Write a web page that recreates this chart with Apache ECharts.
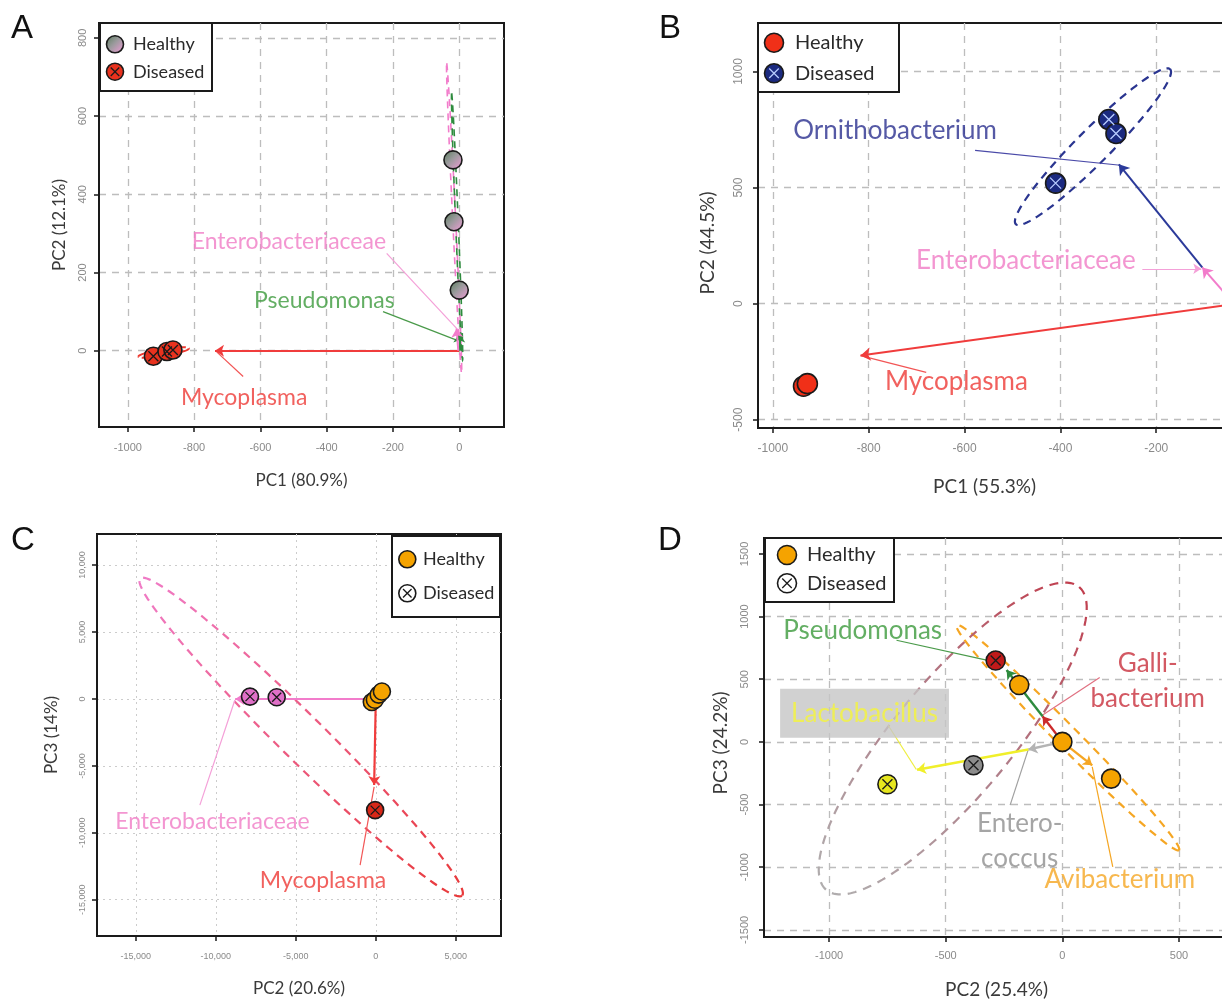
<!DOCTYPE html>
<html><head><meta charset="utf-8">
<script src="https://cdn.jsdelivr.net/npm/echarts@6/dist/echarts.min.js"></script>
<style>html,body{margin:0;padding:0;background:#fff}#chart{width:1222px;height:1002px}</style>
</head><body><div id="chart"></div>
<script>
// ---------------- Panel A ----------------
const aXTicks = [-1000, -800, -600, -400, -200, 0];
const aYTicks = [0, 200, 400, 600, 800];
const aHealthy = [[-19, 488], [-16, 330], [0, 155]];
const aDiseased = [[-923, -14], [-882, -2], [-864, 2]];
const aArrows = [['Mycoplasma', 0, 0, -737, 0], ['Pseudomonas', 0, 0, 0, 44], ['Enterobacteriaceae', -3, 0, -8, 57]];
const aPointers = [['Enterobacteriaceae', -219, 249, -8, 57], ['Pseudomonas', -230, 100, -8, 27], ['Mycoplasma', -652, -66, -732, -3]];
const aLabels = [['Enterobacteriaceae', -514, 278], ['Pseudomonas', -407, 129], ['Mycoplasma', -649, -121]];
const aEllipses = [['Healthy (pink)', -15.5, 338.5, -38, 735, -11, 338.5], ['Healthy (green)', -6.5, 317, -23, 658, -2.5, 317], ['Diseased', -892, -4.5, -968, -15, -893, 4]];

// ---------------- Panel B ----------------
const bXTicks = [-1000, -800, -600, -400, -200, 0];
const bYTicks = [-500, 0, 500, 1000];
const bHealthy = [[-936, -356], [-928, -345]];
const bDiseased = [[-410, 519], [-299, 793], [-284, 733]];
const bArrows = [['Mycoplasma', -30, 0, -817, -224], ['Enterobacteriaceae', -38, 0, -104, 156], ['Ornithobacterium', -104, 156, -278, 600]];
const bPointers = [['Ornithobacterium', -578, 660, -275, 596], ['Enterobacteriaceae', -229, 150, -106, 150], ['Mycoplasma', -680, -296, -817, -224]];
const bLabels = [['Ornithobacterium', -745, 747], ['Enterobacteriaceae', -472, 186], ['Mycoplasma', -617, -334]];
const bEllipses = [['Diseased', -332, 676, -171, 1010, -307, 625]];

// ---------------- Panel C ----------------
const cXTicks = [-15000, -10000, -5000, 0, 5000];
const cYTicks = [-15000, -10000, -5000, 0, 5000, 10000];
const cHealthy = [[-250, -230], [-60, -60], [180, 320], [380, 560]];
const cDiseasedEntero = [[-7862, 175], [-6194, 125]];
const cDiseasedMyco = [[-42, -8304]];
const cArrows = [['Enterobacteriaceae', 0, 0, -8786, 0], ['Mycoplasma', 0, 0, -104, -6434]];
const cPointers = [['Enterobacteriaceae', -10995, -7930, -8805, -75], ['Mycoplasma', -982, -12419, -106, -6561]];
const cLabels = [['Enterobacteriaceae', -10213, -9180], ['Mycoplasma', -3298, -13541]];
const cEllipses = [['Diseased', -4666, -2843, 5396, -14688, -3694, -1619], ['Healthy', 60, 160, 560, 760, 10, 215]];

// ---------------- Panel D ----------------
const dXTicks = [-1000, -500, 0, 500];
const dYTicks = [-1500, -1000, -500, 0, 500, 1000, 1500];
const dHealthy = [[0, 0], [-185, 454], [209, -293]];
const dDiseased = [[-286, 649], [-381, -186], [-750, -338]];
const dArrows = [['Gallibacterium', 0, 0, -85, 205], ['Pseudomonas', -85, 205, -239, 574], ['Enterococcus', 0, 0, -146, -61], ['Lactobacillus', -146, -61, -623, -222], ['Avibacterium', 0, 0, 128, -187]];
const dPointers = [['Pseudomonas', -711, 811, -320, 651], ['Gallibacterium', 160, 513, -86, 213], ['Lactobacillus', -747, 133, -626, -220], ['Enterococcus', -224, -505, -147, -66], ['Avibacterium', 216, -997, 128, -199]];
const dLabels = [['Pseudomonas', -856, 891], ['Galli-\nbacterium', 366, 488], ['Lactobacillus', -848, 229], ['Entero-\ncoccus', -183, -790], ['Avibacterium', 246, -1102]];
const dEllipses = [['Healthy', 23.5, 33.5, 500, -864, 57, 95], ['Diseased', -470, 27, 72, 1236, -279.5, -270]];

// ---------------- styles ----------------
const G = echarts.graphic;
const arrowColor = {
  Mycoplasma: '#f03c3c', Pseudomonas: '#2e8b3e', Enterobacteriaceae: '#f27ccb', Ornithobacterium: '#2b3a9a',
  Gallibacterium: '#cc2a2a', Lactobacillus: '#f0ef2a', Enterococcus: '#b4b4b4', Avibacterium: '#f5a623'
};
const pointerColor = {
  Mycoplasma: '#f25555', Pseudomonas: '#4a9a4a', Enterobacteriaceae: '#f4a0d8', Ornithobacterium: '#4a4aa8',
  Gallibacterium: '#e07080', Lactobacillus: '#eeee40', Enterococcus: '#a0a0a0', Avibacterium: '#f5a623'
};
const textColor = {
  'Mycoplasma': '#ee3a36', 'Pseudomonas': '#3c9a3c', 'Enterobacteriaceae': '#f07cc6', 'Ornithobacterium': '#2b2f8f',
  'Galli-\nbacterium': '#c8303c', 'Lactobacillus': '#f5f53a', 'Entero-\ncoccus': '#8f8f8f', 'Avibacterium': '#f5a623'
};
const FONT = 'Lato';
const TICKFONT = 'Liberation Sans';
const BORDER = '#1a1a1a';

const series = [];
function ellipse(gi, e, stroke, width, dash) {
  series.push({
    type: 'custom', coordinateSystem: 'cartesian2d', xAxisIndex: gi, yAxisIndex: gi, silent: true, z: 2,
    data: [e.slice(1)],
    renderItem: function (params, api) {
      const c = api.coord([api.value(0), api.value(1)]);
      const a = api.coord([api.value(2), api.value(3)]);
      const b = api.coord([api.value(4), api.value(5)]);
      const ax = a[0] - c[0], ay = a[1] - c[1], bx = b[0] - c[0], by = b[1] - c[1];
      const pts = [];
      for (let i = 0; i <= 120; i++) {
        const t = i / 120 * Math.PI * 2;
        pts.push([c[0] + ax * Math.cos(t) + bx * Math.sin(t), c[1] + ay * Math.cos(t) + by * Math.sin(t)]);
      }
      return { type: 'polyline', shape: { points: pts }, style: { stroke: stroke, lineWidth: width, lineDash: dash, fill: null } };
    }
  });
}
function arrows(gi, list, width, size) {
  list.forEach(function (r) {
    series.push({
      type: 'lines', coordinateSystem: 'cartesian2d', xAxisIndex: gi, yAxisIndex: gi, silent: true, z: 4,
      symbol: ['none', 'arrow'], symbolSize: size,
      lineStyle: { color: arrowColor[r[0]], width: width, opacity: 1, curveness: 0 },
      data: [{ coords: [[r[1], r[2]], [r[3], r[4]]] }]
    });
  });
}
function pointers(gi, list, headNames) {
  list.forEach(function (r) {
    const head = headNames && headNames.indexOf(r[0]) >= 0;
    series.push({
      type: 'lines', coordinateSystem: 'cartesian2d', xAxisIndex: gi, yAxisIndex: gi, silent: true, z: 3,
      symbol: ['none', head ? 'arrow' : 'none'], symbolSize: 8,
      lineStyle: { color: pointerColor[r[0]], width: 1.2, opacity: 1, curveness: 0 },
      data: [{ coords: [[r[1], r[2]], [r[3], r[4]]] }]
    });
  });
}
function labels(gi, list, fs, extra) {
  list.forEach(function (r) {
    const lab = Object.assign({ show: true, position: 'inside', formatter: '{b}', color: textColor[r[0]], fontSize: fs, fontFamily: FONT, lineHeight: fs * 1.35, align: 'center' }, (extra && extra[r[0]]) || {});
    series.push({
      type: 'scatter', xAxisIndex: gi, yAxisIndex: gi, silent: true, z: 8, symbolSize: 1,
      itemStyle: { color: 'transparent' },
      data: [{ name: r[0], value: [r[1], r[2]] }],
      label: lab
    });
  });
}
function points(gi, pts, fill, size) {
  series.push({
    type: 'scatter', xAxisIndex: gi, yAxisIndex: gi, silent: true, z: 6, symbolSize: size,
    data: pts.map(function (p, i) { return { value: p, itemStyle: { color: Array.isArray(fill) ? fill[i] : fill } }; }),
    itemStyle: { borderColor: BORDER, borderWidth: 1.6, opacity: 1 }
  });
}
function crosses(gi, pts, color, size) {
  series.push({
    type: 'scatter', xAxisIndex: gi, yAxisIndex: gi, silent: true, z: 7, symbolSize: size,
    symbol: 'path://M0,0L10,10M10,0L0,10',
    data: pts,
    itemStyle: { color: 'transparent', borderColor: color, borderWidth: 1.3, opacity: 1 }
  });
}

const healthyA = new G.LinearGradient(0, 0, 1, 1, [{ offset: 0, color: '#557a58' }, { offset: 0.45, color: '#9a9a9c' }, { offset: 1, color: '#f79ddc' }]);

// Panel A
ellipse(0, aEllipses[0], '#f27ccb', 1.6, [7, 5]);
ellipse(0, aEllipses[1], '#2e8b3e', 1.6, [7, 5]);
ellipse(0, aEllipses[2], '#ee3a30', 2, [10, 3]);
arrows(0, aArrows, 2, 9);
pointers(0, aPointers);
points(0, aHealthy, healthyA, 18);
points(0, aDiseased, '#e8321e', 18);
crosses(0, aDiseased, '#1a1a1a', 10);
labels(0, aLabels, 23);

// Panel B
ellipse(1, bEllipses[0], '#2a3590', 2.2, [8, 6]);
arrows(1, bArrows, 2, 10);
pointers(1, bPointers, ['Enterobacteriaceae']);
points(1, bHealthy, '#f03018', 20);
points(1, bDiseased, '#1b2a80', 20);
crosses(1, bDiseased, '#b8ccff', 11);
labels(1, bLabels, 26);

// Panel C
ellipse(2, cEllipses[0], new G.LinearGradient(0, 0, 1, 1, [{ offset: 0, color: '#f07cc8' }, { offset: 1, color: '#e83838' }]), 2.2, [8, 6]);
ellipse(2, cEllipses[1], '#f5b800', 1.5, [4, 3]);
arrows(2, cArrows, 2.2, 9);
pointers(2, cPointers);
points(2, cHealthy, '#f5a300', 17);
points(2, cDiseasedEntero, '#e070c8', 17);
points(2, cDiseasedMyco, '#d82818', 17);
crosses(2, cDiseasedEntero.concat(cDiseasedMyco), '#1a1a1a', 9);
labels(2, cLabels, 23);

// Panel D
ellipse(3, dEllipses[0], '#f5a623', 2.2, [8, 6]);
ellipse(3, dEllipses[1], new G.LinearGradient(1, 0, 0, 1, [{ offset: 0, color: '#c23a4a' }, { offset: 0.45, color: '#b07a86' }, { offset: 1, color: '#b0b0b0' }]), 2.2, [9, 7]);
arrows(3, dArrows, 2.4, 9);
pointers(3, dPointers);
points(3, dHealthy, '#f5a300', 19);
points(3, dDiseased, ['#c01a1a', '#8c8c8c', '#e6e61e'], 19);
crosses(3, dDiseased, '#1a1a1a', 10);
labels(3, dLabels, 26, { 'Lactobacillus': { backgroundColor: '#c6c6c6', padding: [8, 11, 6, 11] } });

// ---------------- axes ----------------
function fmtPlain(v) { return String(v); }
function fmtComma(v) { return v.toLocaleString('en-US'); }
function xAxisDef(gi, min, max, ticks, fmt, fs, margin, name, gap, nfs, pad, dash) {
  return {
    type: 'value', gridIndex: gi, min: min, max: max,
    axisLine: { show: true, onZero: false, lineStyle: { color: BORDER, width: 2 } },
    axisTick: { show: true, length: 5, customValues: ticks, lineStyle: { color: BORDER, width: 1.5 } },
    axisLabel: { customValues: ticks, formatter: fmt, fontSize: fs, fontFamily: TICKFONT, color: '#8a8a8a', margin: margin },
    splitLine: { show: true, lineStyle: { color: dash.c, width: dash.w, type: dash.t } },
    name: name, nameLocation: 'middle', nameGap: gap,
    nameTextStyle: { fontFamily: FONT, fontSize: nfs, color: '#3a3a3a', padding: pad }
  };
}
function yAxisDef(gi, min, max, ticks, fmt, fs, margin, name, gap, nfs, pad, dash) {
  const d = xAxisDef(gi, min, max, ticks, fmt, fs, margin, name, gap, nfs, pad, dash);
  d.axisLabel.rotate = 90;
  return d;
}
const dashBig = { c: '#bdbdbd', w: 1.3, t: [7, 6] };
const dashDot = { c: '#cccccc', w: 1, t: [2, 4] };

const gridBase = { show: true, borderColor: BORDER, borderWidth: 2, outerBoundsMode: 'none', containLabel: false };
const option = {
  animation: false,
  backgroundColor: '#ffffff',
  grid: [
    Object.assign({ left: 99, top: 23, width: 405, height: 404 }, gridBase),
    Object.assign({ left: 758, top: 23, width: 542, height: 405 }, gridBase),
    Object.assign({ left: 97, top: 534, width: 404, height: 402 }, gridBase),
    Object.assign({ left: 764, top: 538, width: 485, height: 399 }, gridBase)
  ],
  xAxis: [
    xAxisDef(0, -1087, 135, aXTicks, fmtPlain, 11, 15, 'PC1 (80.9%)', 45, 17, [0, 0, 0, 0], dashBig),
    xAxisDef(1, -1031, 100, bXTicks, fmtPlain, 12, 15, 'PC1 (55.3%)', 49, 19, [0, 89, 0, 0], dashBig),
    xAxisDef(2, -17422, 7822, cXTicks, fmtComma, 9, 16, 'PC2 (20.6%)', 44, 17, [0, 0, 0, 0], dashDot),
    xAxisDef(3, -1279, 800, dXTicks, fmtPlain, 11, 13, 'PC2 (25.4%)', 43, 19, [0, 20, 0, 0], dashBig)
  ],
  yAxis: [
    yAxisDef(0, -195, 838, aYTicks, fmtPlain, 11, 11, 'PC2 (12.1%)', 31, 17, [0, 0, 0, 0], dashBig),
    yAxisDef(1, -536, 1209, bYTicks, fmtPlain, 12, 13, 'PC2 (44.5%)', 41, 19, [0, 35, 0, 0], dashBig),
    yAxisDef(2, -17708, 12322, cYTicks, fmtComma, 9, 10, 'PC3 (14%)', 37, 17, [0, 0, 0, 0], dashDot),
    yAxisDef(3, -1557, 1627, dYTicks, fmtPlain, 11, 14, 'PC3 (24.2%)', 34, 19, [0, 11, 0, 0], dashBig)
  ],
  series: series,
  graphic: []
};

// ---------------- legends & panel letters ----------------
const LZ = 200;
function legendBox(x, y, w, h, fs, items) {
  const ch = [{ type: 'rect', z: LZ, shape: { x: x, y: y, width: w, height: h }, style: { fill: '#fff', stroke: BORDER, lineWidth: 2 } }];
  items.forEach(function (it) {
    ch.push({ type: 'circle', z: LZ + 1, shape: { cx: it.cx, cy: it.cy, r: it.r }, style: { fill: it.fill, stroke: BORDER, lineWidth: 1.6 } });
    if (it.xc) {
      const d = it.r * 0.5;
      ch.push({ type: 'line', z: LZ + 2, shape: { x1: it.cx - d, y1: it.cy - d, x2: it.cx + d, y2: it.cy + d }, style: { stroke: it.xc, lineWidth: 1.3 } });
      ch.push({ type: 'line', z: LZ + 2, shape: { x1: it.cx + d, y1: it.cy - d, x2: it.cx - d, y2: it.cy + d }, style: { stroke: it.xc, lineWidth: 1.3 } });
    }
    ch.push({ type: 'text', z: LZ + 2, x: it.tx, y: it.cy, style: { text: it.label, fill: '#2a2a2a', fontSize: fs, fontFamily: FONT, verticalAlign: 'middle' } });
  });
  return { type: 'group', z: LZ, children: ch };
}
option.graphic.push(legendBox(100, 23, 112, 68, 18, [
  { cx: 115, cy: 44.3, r: 8.5, fill: healthyA, label: 'Healthy', tx: 133 },
  { cx: 115, cy: 71.7, r: 8.5, fill: '#e8321e', xc: '#1a1a1a', label: 'Diseased', tx: 133 }
]));
option.graphic.push(legendBox(758, 23, 141, 69, 20, [
  { cx: 774, cy: 42.7, r: 9.5, fill: '#f03018', label: 'Healthy', tx: 795 },
  { cx: 774, cy: 73.3, r: 9.5, fill: '#1b2a80', xc: '#b8ccff', label: 'Diseased', tx: 795 }
]));
option.graphic.push(legendBox(392, 536, 108, 81, 18, [
  { cx: 407.3, cy: 559.3, r: 8.5, fill: '#f5a300', label: 'Healthy', tx: 423 },
  { cx: 407.3, cy: 593.3, r: 8.5, fill: '#ffffff', xc: '#1a1a1a', label: 'Diseased', tx: 423 }
]));
option.graphic.push(legendBox(765, 538, 129, 64, 20, [
  { cx: 787, cy: 555, r: 9.5, fill: '#f5a300', label: 'Healthy', tx: 807 },
  { cx: 787, cy: 583.3, r: 9.5, fill: '#ffffff', xc: '#1a1a1a', label: 'Diseased', tx: 807 }
]));
[['A', 11, 12], ['B', 659, 12], ['C', 11, 524], ['D', 658, 524]].forEach(function (l) {
  option.graphic.push({ type: 'text', x: l[1], y: l[2], z: LZ, style: { text: l[0], fill: '#111', fontSize: 33, fontFamily: 'Liberation Sans' } });
});

const chart = echarts.init(document.getElementById('chart'), null, { renderer: 'canvas', width: 1222, height: 1002 });
chart.setOption(option);
</script>
</body></html>
